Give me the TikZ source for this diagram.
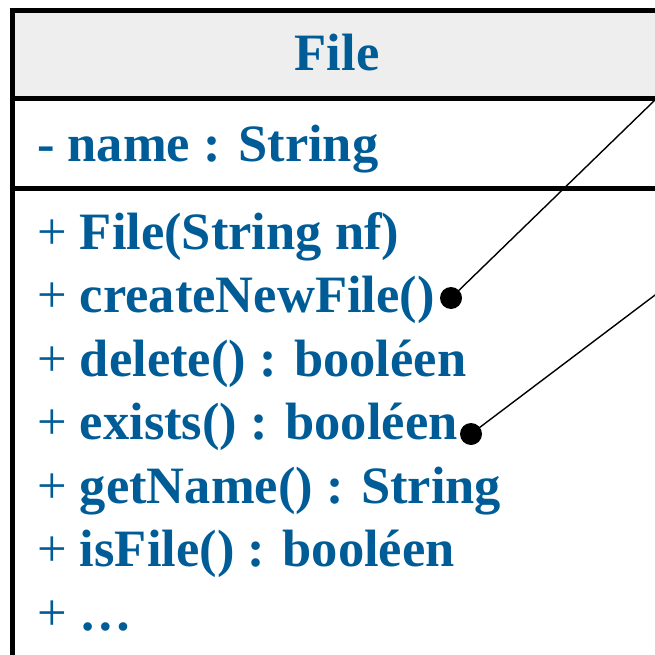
\documentclass[tikz,border=0pt]{standalone}
\usepackage{fontspec}
\setmainfont{Liberation Serif}
\definecolor{umlblue}{RGB}{0,92,150}
\definecolor{headgray}{RGB}{238,238,238}
\begin{document}
\begin{tikzpicture}[x=1pt,y=-1pt,
  txt/.style={anchor=base west,inner sep=0pt,text=umlblue,font=\fontsize{52.5}{60}\selectfont\bfseries},
  border/.style={line width=4.5pt},
  dot/.style={circle,fill=black,inner sep=0pt,minimum size=22pt},
  conn/.style={line width=1.4pt}]
\useasboundingbox (0,0) rectangle (655,655);
\clip (0,0) rectangle (655,655);
\fill[headgray] (12.5,10.5) rectangle (660,98.5);
\draw[border] (12.5,700) -- (12.5,10.5) -- (670,10.5);
\draw[border] (12.5,98.5) -- (670,98.5);
\draw[border] (12.5,188.3) -- (670,188.3);
\node[txt,anchor=base] (title) at (337,71) {File};
\node[txt] (attr) at (37,161) {- name : String};
\node[txt] (m1) at (37,249) {{\mdseries +} File(String nf)};
\node[txt] (m2) at (37,312.5) {{\mdseries +} createNewFile()};
\node[txt] (m3) at (37,376) {{\mdseries +} delete() : booléen};
\node[txt] (m4) at (37,439.5) {{\mdseries +} exists() : booléen};
\node[txt] (m5) at (37,503) {{\mdseries +} getName() : String};
\node[txt] (m6) at (37,566.5) {{\mdseries +} isFile() : booléen};
\node[txt] (m7) at (37,630) {{\mdseries +} …};
\node[dot] (d1) at (451,298) {};
\node[dot] (d2) at (471,434) {};
\coordinate (e1) at (665,90.3);
\coordinate (e2) at (665,287.5);
\draw[conn] (d1.center) -- (e1);
\draw[conn] (d2.center) -- (e2);
\end{tikzpicture}
\end{document}
